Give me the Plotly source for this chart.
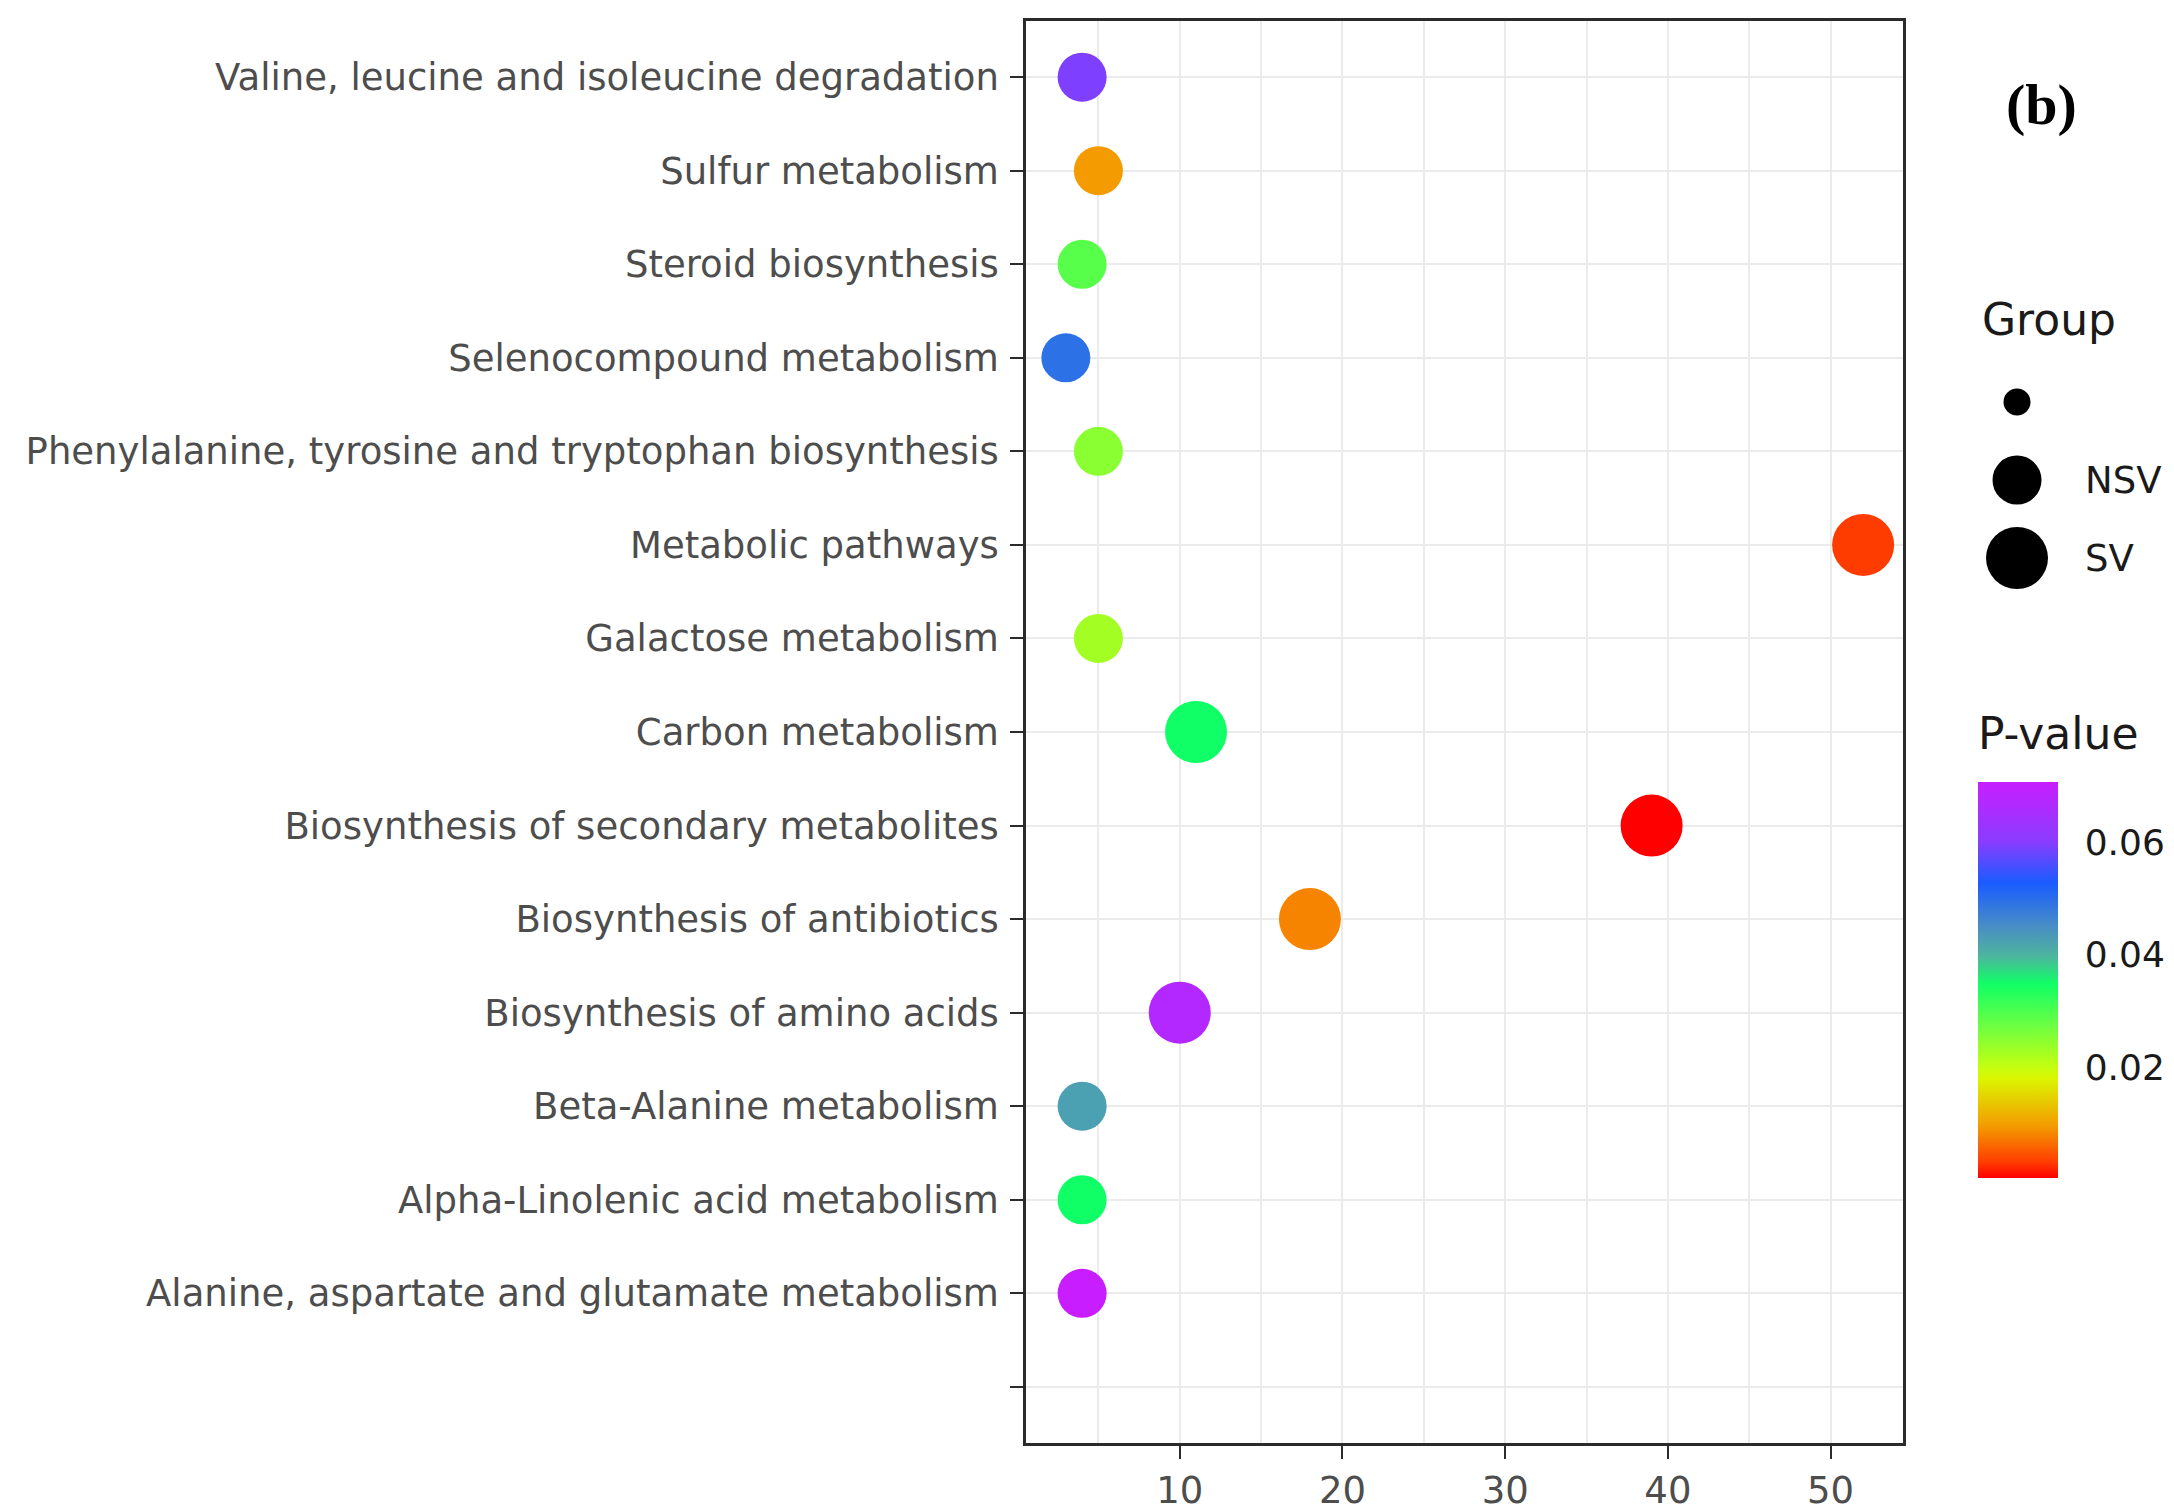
import plotly.graph_objects as go

# ---- data -------------------------------------------------------------
pathways = [
    "Valine, leucine and isoleucine degradation",
    "Sulfur metabolism",
    "Steroid biosynthesis",
    "Selenocompound metabolism",
    "Phenylalanine, tyrosine and tryptophan biosynthesis",
    "Metabolic pathways",
    "Galactose metabolism",
    "Carbon metabolism",
    "Biosynthesis of secondary metabolites",
    "Biosynthesis of antibiotics",
    "Biosynthesis of amino acids",
    "Beta-Alanine metabolism",
    "Alpha-Linolenic acid metabolism",
    "Alanine, aspartate and glutamate metabolism",
]
gene_counts = [4, 5, 4, 3, 5, 52, 5, 11, 39, 18, 10, 4, 4, 4]
p_values = [0.0594, 0.0095, 0.0290, 0.0495, 0.0249, 0.0031, 0.0228,
            0.0348, 0.0003, 0.0080, 0.0672, 0.0425, 0.0348, 0.0707]
groups = ["NSV", "NSV", "NSV", "NSV", "NSV", "SV", "NSV",
          "SV", "SV", "SV", "SV", "NSV", "NSV", "NSV"]

group_levels = ["", "NSV", "SV"]
x_ticks = [10, 20, 30, 40, 50]
cb_ticks = [0.02, 0.04, 0.06]

# ---- styling ------------------------------------------------------------
W, H = 2174, 1511
FONT = "DejaVu Sans"
marker_px = {"": 27, "NSV": 49, "SV": 62}

rainbow = [
    [0.00, "#FF0000"], [0.04, "#FF3C00"], [0.13, "#F39A00"],
    [0.25, "#DCF500"], [0.28, "#C4FF10"], [0.38, "#70FF40"],
    [0.49, "#10FF66"], [0.56, "#4DB59E"], [0.63, "#4A90C2"],
    [0.745, "#1A5CFF"], [0.85, "#8A3CFF"], [1.00, "#C81EFF"],
]


def px_x(x):
    return x / W


def px_y(y):
    return 1 - y / H


# y categories from bottom to top (blank level sits at the bottom)
y_order = [" "] + pathways[::-1]

cmin, cmax = min(p_values), max(p_values)
cb_left, cb_right, cb_top, cb_bottom = 1978, 2058, 782, 1178

fig = go.Figure()

fig.add_trace(go.Scatter(
    x=gene_counts, y=pathways, mode="markers",
    marker=dict(size=[marker_px[g] for g in groups], color=p_values,
                coloraxis="coloraxis", line=dict(width=0), opacity=1),
    showlegend=False, cliponaxis=False,
))

# size key for Group
for i, lvl in enumerate(group_levels):
    fig.add_trace(go.Scatter(
        x=[0.5], y=[i], xaxis="x2", yaxis="y2", mode="markers",
        marker=dict(size=marker_px[lvl], color="black", line=dict(width=0)),
        showlegend=False, cliponaxis=False, hoverinfo="skip",
    ))

grid = "#EBEBEB"
frame = "#2B2B2B"

fig.update_layout(
    width=W, height=H,
    margin=dict(l=0, r=0, t=0, b=0),
    paper_bgcolor="white", plot_bgcolor="white",
    font=dict(family=FONT, color="#4D4D4D"),
    showlegend=False,
    xaxis=dict(
        domain=[px_x(1026), px_x(1903)], range=[0.55, 54.45],
        tickvals=x_ticks, ticks="outside", ticklen=13, tickwidth=2,
        tickcolor=frame, tickfont=dict(size=37, color="#4D4D4D"),
        ticklabelstandoff=0,
        showgrid=True, gridcolor=grid, gridwidth=2,
        minor=dict(dtick=5, tick0=0, showgrid=True, gridcolor=grid,
                   gridwidth=2, ticks=""),
        showline=True, linecolor=frame, linewidth=2.5, mirror=True,
        zeroline=False, automargin=False, anchor="y",
    ),
    yaxis=dict(
        domain=[px_y(1443), px_y(21)], type="category",
        categoryorder="array", categoryarray=y_order,
        range=[-0.6, len(y_order) - 0.4],
        ticks="outside", ticklen=13, tickwidth=2, tickcolor=frame,
        tickfont=dict(size=37, color="#4D4D4D"),
        ticklabelstandoff=4,
        showgrid=True, gridcolor=grid, gridwidth=2,
        showline=True, linecolor=frame, linewidth=2.5, mirror=True,
        zeroline=False, automargin=False, anchor="x",
    ),
    xaxis2=dict(domain=[px_x(1990), px_x(2044)], range=[0, 1],
                visible=False, anchor="y2", fixedrange=True),
    yaxis2=dict(domain=[px_y(597), px_y(363)], range=[2.5, -0.5],
                visible=False, anchor="x2", fixedrange=True),
    coloraxis=dict(
        colorscale=rainbow, cmin=cmin, cmax=cmax,
        colorbar=dict(
            thickness=cb_right - cb_left, thicknessmode="pixels",
            len=cb_bottom - cb_top, lenmode="pixels",
            x=px_x(cb_left), xanchor="left",
            y=px_y(cb_bottom), yanchor="bottom",
            xpad=0, ypad=0, outlinewidth=0,
            tickvals=cb_ticks, ticktext=[f"{t:.2f}" for t in cb_ticks],
            ticks="outside", ticklen=20, tickcolor="rgba(0,0,0,0)",
            tickfont=dict(size=36, color="#1A1A1A", family=FONT),
        ),
    ),
)

# white tick marks across the colour bar
shapes = []
for t in cb_ticks:
    yy = px_y(cb_bottom) + (t - cmin) / (cmax - cmin) * (cb_bottom - cb_top) / H
    for x0, x1 in [(cb_left, cb_left + 13), (cb_right - 13, cb_right)]:
        shapes.append(dict(type="line", xref="paper", yref="paper",
                           x0=px_x(x0), x1=px_x(x1), y0=yy, y1=yy,
                           line=dict(color="white", width=2)))
fig.update_layout(shapes=shapes)

annotations = [
    dict(text="Group", x=px_x(1980), y=px_y(319), xanchor="left",
         yanchor="middle", font=dict(size=44, color="#1A1A1A")),
    dict(text="P-value", x=px_x(1976), y=px_y(733), xanchor="left",
         yanchor="middle", font=dict(size=44, color="#1A1A1A")),
    dict(text="<b>(b)</b>", x=px_x(2041), y=px_y(104), xanchor="center",
         yanchor="middle",
         font=dict(size=58, color="black", family="Liberation Serif")),
]
for i, lvl in enumerate(group_levels):
    if lvl:
        annotations.append(dict(
            text=lvl, x=px_x(2083), y=px_y(402 + 78 * i), xanchor="left",
            yanchor="middle", font=dict(size=37, color="#1A1A1A")))
for a in annotations:
    a.update(xref="paper", yref="paper", showarrow=False)
fig.update_layout(annotations=annotations)

fig.write_html("out.html")
